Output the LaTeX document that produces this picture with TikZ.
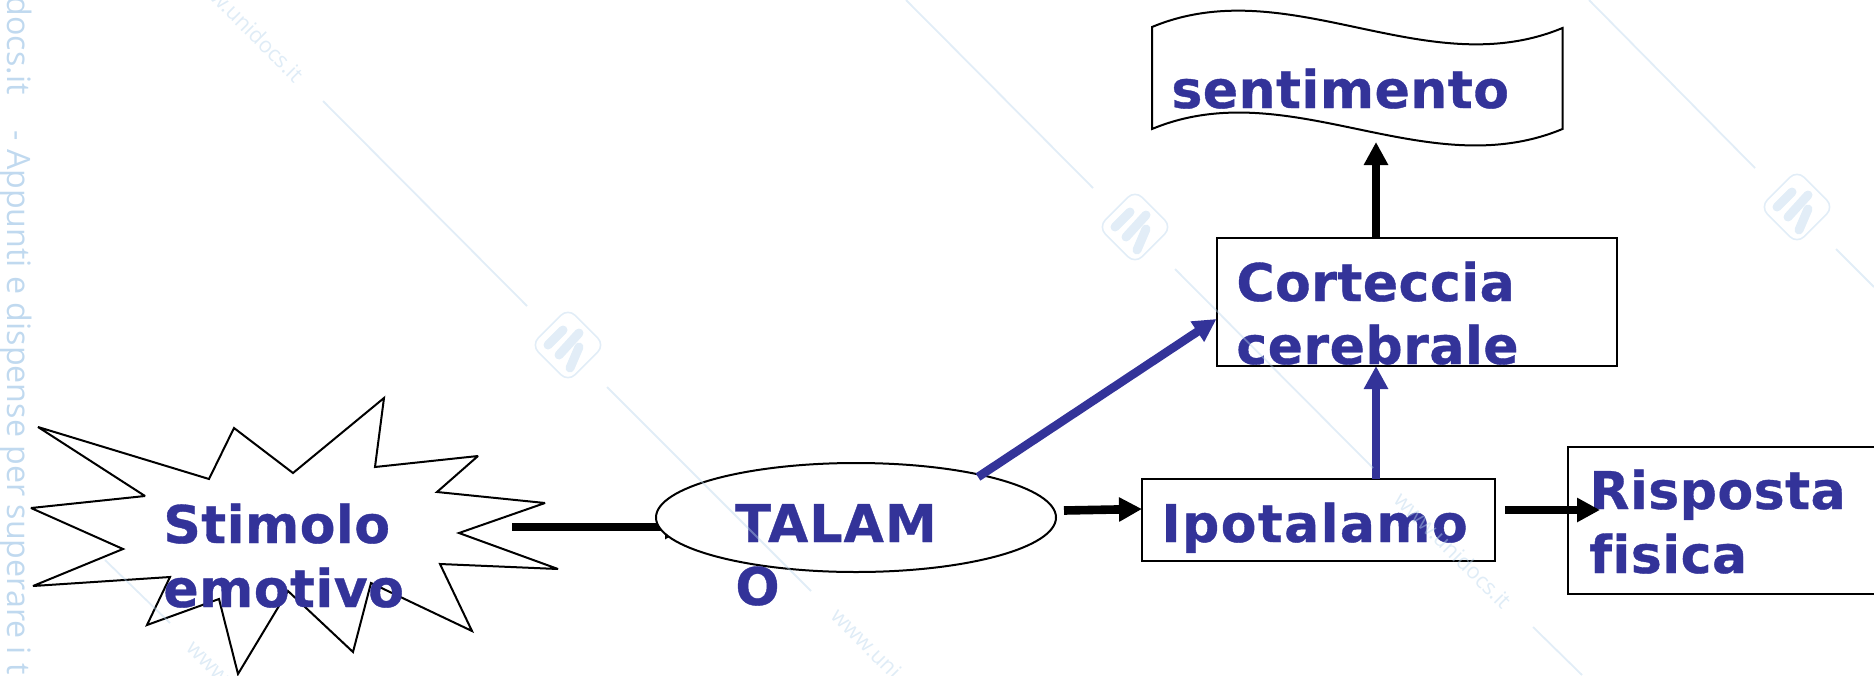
\documentclass[tikz,border=0pt]{standalone}
\usepackage{fontspec}
\setmainfont{DejaVu Sans}[Ligatures=NoCommon,BoldFeatures={FakeBold=0.7}]
\newfontfamily\wmfont{Open Sans}
\usetikzlibrary{arrows.meta,shapes.geometric}
\definecolor{navy}{HTML}{333399}
\definecolor{wmline}{HTML}{B9D5EC}
\definecolor{wmtext}{HTML}{C0D9EF}
\tikzset{
  outline/.style={draw=black,line width=1pt},
  boxnode/.style={outline,rectangle,inner sep=0pt,outer sep=0pt},
  lab/.style={text=navy,font=\fontsize{26}{26}\selectfont\bfseries\addfontfeature{LetterSpace=1},inner sep=0pt,anchor=base west},
  blackarrow/.style={draw=black,line width=4.3pt,-{Triangle[length=11.5pt,width=11.5pt]}},
  bluearrow/.style={draw=navy,line width=4.3pt,-{Triangle[length=11.5pt,width=11.5pt]}},
  wmrule/.style={draw=wmline,line width=0.9pt,opacity=0.42},
  wmdiag/.style={text=wmline,opacity=0.45,font=\wmfont\fontsize{10.9}{12}\selectfont,inner sep=0pt,rotate=-45},
  wmside/.style={text=wmtext,font=\wmfont\fontsize{16.1}{17}\selectfont,inner sep=0pt,rotate=-90},
  wmlogo/.pic={
    \draw[wmline,opacity=0.42,line width=0.8pt,rounded corners=5pt,rotate=45] (-26,-26) rectangle (26,26);
    \draw[wmline,opacity=0.42,line width=4.5pt,line cap=round] (-20,0) -- (-5,-15);
    \draw[wmline,opacity=0.42,line width=4.5pt,line cap=round] (-9,10) -- (11,-12);
    \draw[wmline,opacity=0.42,line width=4.5pt,line cap=round] (2,23) -- (11,2);
  }
}
\begin{document}
\begin{tikzpicture}[x=0.5pt,y=-0.5pt]
\useasboundingbox (0,0) rectangle (1874,675);
\clip (0,0) rectangle (1874,675);
% star
\draw[outline,line join=miter,miter limit=3,fill=white] (38,427) -- (209,479) -- (234,428) -- (293,473) -- (384,398) -- (375,467) -- (478,456) -- (437,492) -- (545,503) -- (459,533) -- (558,569) -- (440,564) -- (472,631) -- (371,583) -- (353,652) -- (288,591) -- (238,674) -- (219,599) -- (147,625) -- (170,577) -- (33,586) -- (123,549) -- (31,508) -- (145,496) -- cycle;
\coordinate (stimEnd) at (512,527);
% banner
\draw[outline,miter limit=3] (1152,27) .. controls (1289,-30) and (1425,85) .. (1562.5,28) -- (1562.5,129) .. controls (1425,186) and (1289,72) .. (1152,129) -- cycle;
\coordinate (senti) at (1376,142);
% arrow under ellipse
\coordinate (thalIn) at (688,527);
\draw[blackarrow] (stimEnd) -- (thalIn);
% nodes
\node[ellipse,outline,fill=white,inner sep=0pt,outer sep=0pt,minimum width=200pt,minimum height=54.5pt] (thal) at (856,517.5) {};
\node[boxnode,minimum width=176.5pt,minimum height=41pt] (ipot) at (1318.5,520) {};
\node[boxnode,minimum width=200pt,minimum height=64pt] (cort) at (1416.5,302) {};
\node[boxnode,minimum width=200pt,minimum height=73.5pt] (risp) at (1768,520) {};
% text
\node[lab] (t1) at (163,543) {Stimolo};
\node[lab] (t2) at (163,607) {emotivo};
\node[lab] (t3) at (735,542) {\addfontfeature{LetterSpace=2.2}TALAM};
\node[lab] (t4) at (735,605) {O};
\node[lab] (t5) at (1161,542) {\addfontfeature{LetterSpace=2.7}Ipotalamo};
\node[lab] (t6) at (1171,108) {sentimento};
\node[lab] (t7) at (1236,301) {Corteccia};
\node[lab] (t8) at (1236,364) {cerebrale};
\node[lab] (t9) at (1589,509) {Risposta};
\node[lab] (t10) at (1589,573) {fisica};
% connectors
\coordinate (upx) at (1376,0);
\coordinate (thalOut) at (1064,510.5);
\coordinate (thalUp) at (978,477);
\coordinate (ipotOut) at (1505,510);
\draw[blackarrow] (thalOut) -- (ipot.west |- 0,509);
\draw[bluearrow] (thalUp) -- (cort.west |- 0,319);
\draw[bluearrow] (upx |- ipot.north) -- (upx |- cort.south);
\draw[blackarrow] (upx |- cort.north) -- (senti);
\draw[blackarrow] (ipotOut) -- (1600,510);
% watermark
\draw[wmrule] (323,101) -- (527,306);
\draw[wmrule] (607,387) -- (811,591);
\draw[wmrule] (906,0) -- (1093,188);
\draw[wmrule] (1175,269) -- (1373,468);
\draw[wmrule] (1589,0) -- (1755,168);
\draw[wmrule] (1836,249) -- (1874,287);
\draw[wmrule] (1533,627) -- (1582,675);
\draw[wmrule] (105,560) -- (170,623);
\pic at (568,345) {wmlogo};
\pic at (1135,227) {wmlogo};
\pic at (1797,207) {wmlogo};
\node[wmdiag,anchor=east] (w1) at (300,78) {w.unidocs.it};
\node[wmdiag,anchor=west] (w2) at (189,645) {www};
\node[wmdiag,anchor=west] (w3) at (835,612) {www.uni};
\node[wmdiag] (w4) at (1453,550) {www.unidocs.it};
\node[wmside,anchor=base east] (s1) at (8,95) {docs.it};
\node[wmside,anchor=base west] (s2) at (8,130) {- Appunti e dispense per superare i t};
\end{tikzpicture}
\end{document}
